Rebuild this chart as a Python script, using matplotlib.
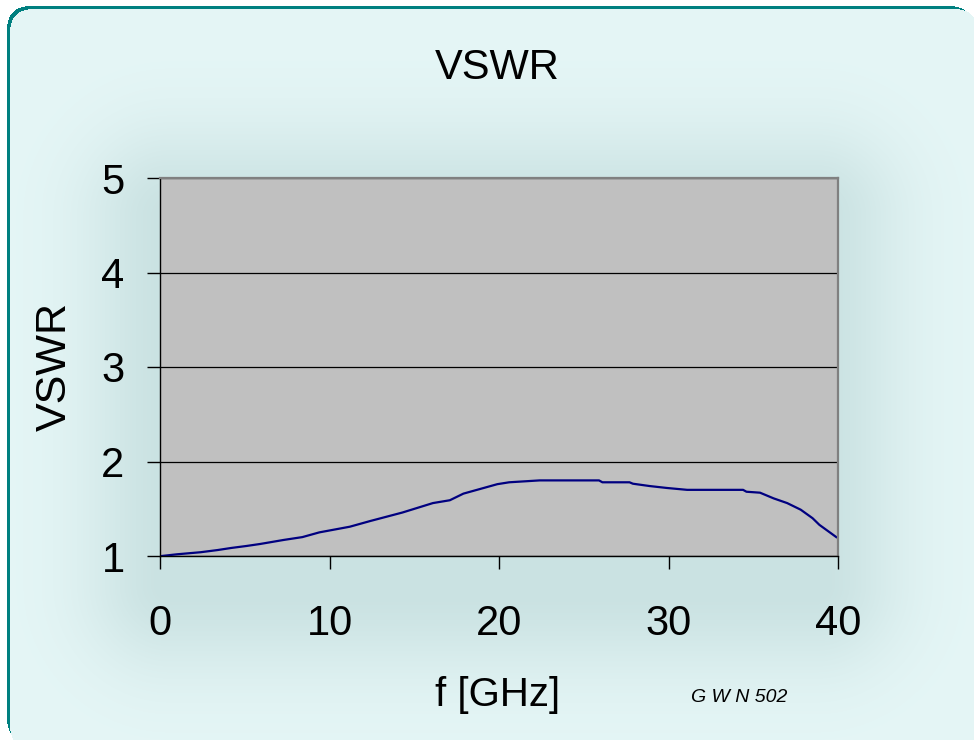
import numpy as np
import matplotlib
matplotlib.use("Agg")
import matplotlib.pyplot as plt
from matplotlib.patches import FancyBboxPatch

plt.rcParams['font.family'] = ['Liberation Sans', 'DejaVu Sans']

# --- data ---
freq_ghz = [0.1, 1.0, 2.4, 3.4, 4.2, 5.1, 5.9, 7.3, 8.4, 9.4, 11.2, 12.4, 14.3,
            16.1, 17.1, 17.9, 19.1, 19.9, 20.6, 22.4, 25.9, 26.1, 27.7, 27.9,
            28.9, 29.9, 31.1, 34.4, 34.6, 35.4, 36.2, 37.0, 37.8, 38.5, 38.9, 39.9]
vswr = [1.00, 1.018, 1.04, 1.063, 1.085, 1.106, 1.127, 1.17, 1.20, 1.25, 1.31,
        1.37, 1.46, 1.56, 1.59, 1.66, 1.72, 1.76, 1.78, 1.80, 1.80, 1.78, 1.78,
        1.765, 1.74, 1.72, 1.70, 1.70, 1.68, 1.67, 1.61, 1.56, 1.49, 1.40,
        1.33, 1.20]
x_ticks = [0, 10, 20, 30, 40]
y_ticks = [1, 2, 3, 4, 5]

W, H = 974, 740
fig = plt.figure(figsize=(W / 100, H / 100), dpi=100)
fig.patch.set_facecolor('white')

# --- background: light panel with soft glow around the plot area ---
bg = fig.add_axes([0, 0, 1, 1], zorder=0)
yy, xx = np.mgrid[0:H, 0:W]
x0, x1, y0, y1 = 170, 815, 215, 585
dx = np.maximum(np.maximum(x0 - xx, xx - x1), 0)
dy = np.maximum(np.maximum(y0 - yy, yy - y1), 0)
d = np.hypot(dx, dy)
shade = np.exp(-(d / 85.0) ** 2)
light = np.array([229, 246, 246]) / 255
dark = np.array([202, 226, 226]) / 255
img = light[None, None, :] * (1 - shade[..., None]) + dark[None, None, :] * shade[..., None]

# teal frame showing on the top and left, panel offset slightly
outer = FancyBboxPatch((7, 6), 966, 736, boxstyle="round,pad=0,rounding_size=24")
inner = FancyBboxPatch((10, 9), 968, 740, boxstyle="round,pad=0,rounding_size=24")
pts = np.c_[xx.ravel() + 0.5, yy.ravel() + 0.5]
in_outer = outer.get_path().transformed(outer.get_patch_transform()).contains_points(pts).reshape(H, W)
in_inner = inner.get_path().transformed(inner.get_patch_transform()).contains_points(pts).reshape(H, W)
teal = np.array([0, 128, 128]) / 255
img[in_outer & ~in_inner] = teal
img[~in_outer & ~in_inner] = 1.0

bg.imshow(img, extent=[0, W, H, 0], aspect='auto', interpolation='bilinear')
bg.set_xlim(0, W)
bg.set_ylim(H, 0)
bg.axis('off')

# --- the chart ---
ax = fig.add_axes([160 / W, 1 - 556 / H, (838 - 160) / W, (556 - 178) / H], zorder=1)
ax.set_facecolor('#c0c0c0')
ax.plot(freq_ghz, vswr, color='#000080', linewidth=1.6)

ax.set_xlim(0, 40)
ax.set_ylim(1, 5)
ax.set_xticks(x_ticks)
ax.set_yticks(y_ticks)
ax.yaxis.grid(True, color='black', linewidth=0.9)
ax.set_axisbelow(True)

for side in ['top', 'right']:
    ax.spines[side].set_color('#808080')
    ax.spines[side].set_linewidth(1.6)
for side in ['left', 'bottom']:
    ax.spines[side].set_color('black')
    ax.spines[side].set_linewidth(1.0)

ax.tick_params(axis='x', length=9.5, width=1, pad=25, labelsize=30)
ax.tick_params(axis='y', length=9.5, width=1, pad=16, labelsize=30)

fig.text(497 / W, 1 - 68 / H, 'VSWR', ha='center', va='center', fontsize=30)
fig.text(498 / W, 1 - 695 / H, 'f [GHz]', ha='center', va='center', fontsize=29)
fig.text(55 / W, 1 - 367 / H, 'VSWR', ha='center', va='center', fontsize=31,
         rotation=90)
fig.text(739 / W, 1 - 697 / H, 'G W N 502', ha='center', va='center', fontsize=14,
         style='italic')

fig.savefig('out.png', dpi=100)
